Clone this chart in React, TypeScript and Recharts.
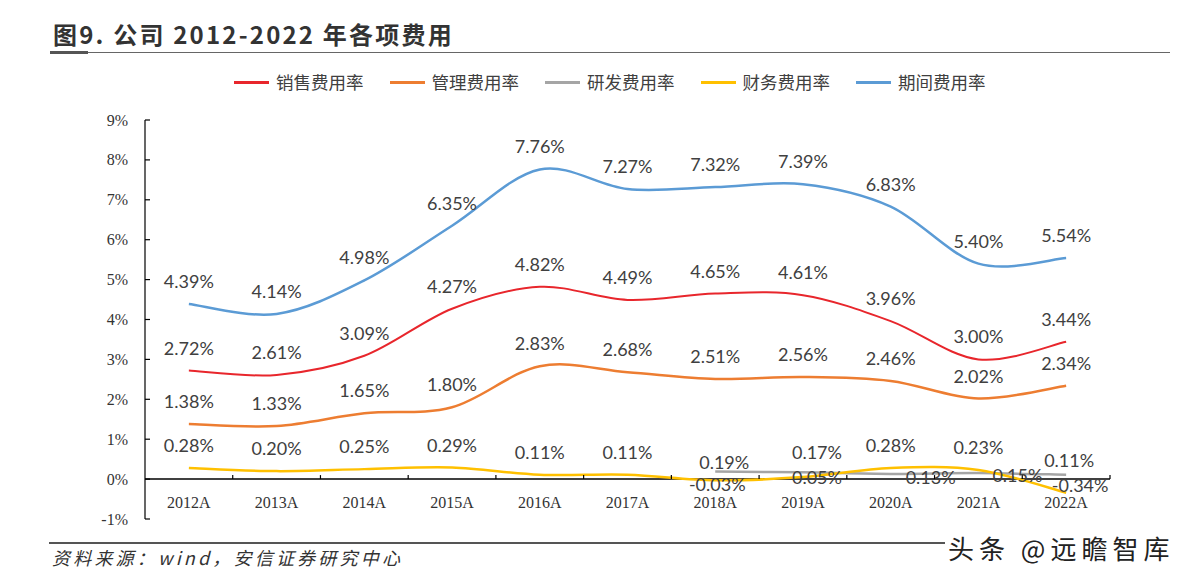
import React from "react";
import { LineChart, Line, XAxis, YAxis, ReferenceLine, LabelList } from "recharts";

const YEARS = ["2012A", "2013A", "2014A", "2015A", "2016A", "2017A", "2018A", "2019A", "2020A", "2021A", "2022A"];
const SALES = [2.72, 2.61, 3.09, 4.27, 4.82, 4.49, 4.65, 4.61, 3.96, 3.0, 3.44];
const ADMIN = [1.38, 1.33, 1.65, 1.8, 2.83, 2.68, 2.51, 2.56, 2.46, 2.02, 2.34];
const RND = [null, null, null, null, null, null, 0.19, 0.17, 0.13, 0.15, 0.11];
const FIN = [0.28, 0.2, 0.25, 0.29, 0.11, 0.11, -0.03, 0.05, 0.28, 0.23, -0.34];
const PERIOD = [4.39, 4.14, 4.98, 6.35, 7.76, 7.27, 7.32, 7.39, 6.83, 5.4, 5.54];
const Y_TICKS = [-1, 0, 1, 2, 3, 4, 5, 6, 7, 8, 9];

const data = YEARS.map((year, i) => ({
  year,
  sales: SALES[i],
  admin: ADMIN[i],
  rnd: RND[i],
  fin: FIN[i],
  period: PERIOD[i],
}));

// layout
const W = 1186;
const H = 582;
const PLOT_LEFT = 145;
const PLOT_RIGHT = 1110;
const PLOT_TOP = 120;
const PLOT_BOTTOM = 519;
const PLOT_H = PLOT_BOTTOM - PLOT_TOP;
const BAND = (PLOT_RIGHT - PLOT_LEFT) / YEARS.length;
const Y_MIN = -1;
const Y_MAX = 9;

const CJK = '"Noto Sans CJK SC", "Noto Sans", sans-serif';
const SERIF = '"Liberation Serif", "DejaVu Serif", serif';
const LABEL_FONT = 'Lato, "Open Sans", sans-serif';

// label placement (dx, dy from the point to the label centre)
const DEFAULT_OFFSET = { dx: 0, dy: -23 };
const LABEL_OFFSETS: Record<string, Record<number, { dx: number; dy: number }>> = {
  rnd: {
    6: { dx: 9, dy: -10 },
    7: { dx: 14, dy: -20 },
    8: { dx: 40, dy: 3 },
    9: { dx: 39, dy: 2 },
    10: { dx: 3, dy: -15 },
  },
  fin: {
    6: { dx: 2, dy: 4 },
    7: { dx: 14, dy: 0 },
    10: { dx: 14, dy: -8 },
  },
};

const SERIES = [
  { key: "sales", name: "销售费用率", color: "#E8262C", width: 2 },
  { key: "admin", name: "管理费用率", color: "#ED7D31", width: 2.5 },
  { key: "rnd", name: "研发费用率", color: "#A5A5A5", width: 2.5 },
  { key: "fin", name: "财务费用率", color: "#FFC000", width: 2.5 },
  { key: "period", name: "期间费用率", color: "#5B9BD5", width: 2.5 },
];

// Excel-like smoothed line (Bezier through points, 1/6 tangents)
const excelSmooth = (context: any) => {
  let pts: number[][] = [];
  return {
    areaStart() {},
    areaEnd() {},
    lineStart() {
      pts = [];
    },
    point(x: number, y: number) {
      pts.push([+x, +y]);
    },
    lineEnd() {
      if (!pts.length) return;
      context.moveTo(pts[0][0], pts[0][1]);
      for (let i = 0; i < pts.length - 1; i++) {
        const p0 = pts[i - 1] || pts[i];
        const p1 = pts[i];
        const p2 = pts[i + 1];
        const p3 = pts[i + 2] || p2;
        context.bezierCurveTo(
          p1[0] + (p2[0] - p0[0]) / 6,
          p1[1] + (p2[1] - p0[1]) / 6,
          p2[0] - (p3[0] - p1[0]) / 6,
          p2[1] - (p3[1] - p1[1]) / 6,
          p2[0],
          p2[1]
        );
      }
    },
  };
};

const makeLabel = (key: string) => (props: any) => {
  const { value, index } = props;
  if (value == null) return null;
  const x = props.x ?? props.viewBox?.x;
  const y = props.y ?? props.viewBox?.y;
  const o = LABEL_OFFSETS[key]?.[index] ?? DEFAULT_OFFSET;
  return (
    <text
      x={x + o.dx}
      y={y + o.dy}
      textAnchor="middle"
      dominantBaseline="central"
      fontFamily={LABEL_FONT}
      fontSize={18}
      fill="#404040"
    >
      {Number(value).toFixed(2)}%
    </text>
  );
};

const XTick = (props: any) => {
  const { x, y, payload } = props;
  const zeroY = y - (PLOT_H * (0 - Y_MIN)) / (Y_MAX - Y_MIN);
  return (
    <g>
      <line x1={x + BAND / 2} x2={x + BAND / 2} y1={zeroY} y2={zeroY - 4} stroke="#000" strokeWidth={1.2} />
      <text x={x} y={y - 17} textAnchor="middle" dominantBaseline="central" fontFamily={SERIF} fontSize={16} fill="#333">
        {payload.value}
      </text>
    </g>
  );
};

const YTick = (props: any) => {
  const { x, y, payload } = props;
  return (
    <g>
      <line x1={x} x2={x + 5} y1={y} y2={y} stroke="#000" strokeWidth={1.2} />
      <text x={x - 17} y={y} textAnchor="end" dominantBaseline="central" fontFamily={SERIF} fontSize={16} fill="#333">
        {payload.value}%
      </text>
    </g>
  );
};

const Legend = () => (
  <div style={{ position: "absolute", left: 234, top: 70, display: "flex", gap: 26, alignItems: "center" }}>
    {SERIES.map((s) => (
      <div key={s.key} style={{ display: "flex", alignItems: "center" }}>
        <span style={{ display: "inline-block", width: 35, height: 3, background: s.color, marginRight: 7 }} />
        <span style={{ fontFamily: CJK, fontSize: 17.5, color: "#404040", lineHeight: "24px" }}>{s.name}</span>
      </div>
    ))}
  </div>
);

export default function App() {
  return (
    <div style={{ position: "absolute", left: 0, top: 0, width: W, height: H, background: "#fff", overflow: "hidden" }}>
      <div
        style={{
          position: "absolute",
          left: 53,
          top: 18,
          fontFamily: CJK,
          fontWeight: 700,
          fontSize: 24,
          letterSpacing: 2.2,
          color: "#333",
          lineHeight: "32px",
          whiteSpace: "nowrap",
        }}
      >
        图9. 公司 2012-2022 年各项费用
      </div>
      <div style={{ position: "absolute", left: 50, top: 52, width: 1120, height: 1, background: "#666" }} />
      <div style={{ position: "absolute", left: 50, top: 51, width: 38, height: 3, background: "#555" }} />
      <Legend />
      <div style={{ position: "absolute", left: 0, top: 0 }}>
        <LineChart
          width={W}
          height={H}
          data={data}
          margin={{ top: PLOT_TOP, bottom: H - PLOT_BOTTOM - 30, left: PLOT_LEFT - 60, right: W - PLOT_RIGHT }}
        >
          <XAxis
            dataKey="year"
            height={30}
            axisLine={false}
            tickLine={false}
            tickSize={0}
            tickMargin={0}
            interval={0}
            padding={{ left: BAND / 2, right: BAND / 2 }}
            tick={<XTick />}
          />
          <YAxis
            width={60}
            domain={[Y_MIN, Y_MAX]}
            ticks={Y_TICKS}
            allowDataOverflow
            axisLine={{ stroke: "#000", strokeWidth: 1.2 }}
            tickLine={false}
            tickSize={0}
            tickMargin={0}
            interval={0}
            tick={<YTick />}
          />
          <ReferenceLine y={0} stroke="#000" strokeWidth={1.5} />
          {SERIES.map((s) => (
            <Line
              key={s.key}
              dataKey={s.key}
              name={s.name}
              type={excelSmooth as any}
              stroke={s.color}
              strokeWidth={s.width}
              dot={false}
              activeDot={false}
              isAnimationActive={false}
            >
              <LabelList dataKey={s.key} content={makeLabel(s.key)} />
            </Line>
          ))}
        </LineChart>
      </div>
      <div style={{ position: "absolute", left: 49, top: 542, width: 896, height: 2, background: "#555" }} />
      <div
        style={{
          position: "absolute",
          left: 52,
          top: 544,
          fontFamily: CJK,
          fontStyle: "italic",
          fontSize: 18,
          letterSpacing: 3.2,
          color: "#333",
          lineHeight: "26px",
          whiteSpace: "nowrap",
        }}
      >
        资料来源：wind，安信证券研究中心
      </div>
      <div
        style={{
          position: "absolute",
          left: 948,
          top: 531,
          fontFamily: CJK,
          fontSize: 26,
          letterSpacing: 5,
          color: "#222",
          lineHeight: "34px",
          whiteSpace: "nowrap",
        }}
      >
        头条 @远瞻智库
      </div>
    </div>
  );
}
